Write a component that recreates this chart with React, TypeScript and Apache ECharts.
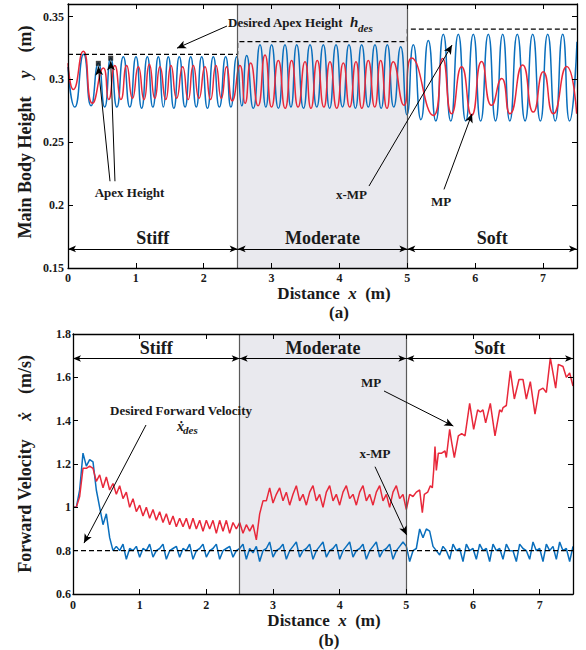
import React, { useEffect, useRef } from "react";
import * as echarts from "echarts";

const SERIF = "Liberation Serif";
const BLUE = "#0a6fbd";
const RED = "#e8283a";
const INK = "#1a1a1a";

// ---------- (a) main body height: extrema ----------
const xmpHeight: [number, number][] = [
  [0, 0.31], [0.1, 0.278], [0.23, 0.32], [0.34, 0.279], [0.447, 0.313], [0.54, 0.278],
  [0.629, 0.317], [0.72, 0.278], [0.815, 0.318], [0.91, 0.278], [1.002, 0.318], [1.085, 0.277],
  [1.169, 0.318], [1.25, 0.278], [1.331, 0.318], [1.405, 0.278], [1.478, 0.318], [1.56, 0.277],
  [1.64, 0.318], [1.725, 0.278], [1.808, 0.318], [1.89, 0.278], [1.97, 0.318], [2.055, 0.277],
  [2.141, 0.318], [2.23, 0.278], [2.323, 0.318], [2.4, 0.278], [2.485, 0.318], [2.56, 0.279],
  [2.633, 0.319], [2.73, 0.277], [2.829, 0.3275], [2.915, 0.278], [3.0, 0.3275], [3.1, 0.277],
  [3.197, 0.3275], [3.285, 0.278], [3.37, 0.3275], [3.47, 0.277], [3.566, 0.3275], [3.665, 0.278],
  [3.762, 0.3275], [3.855, 0.277], [3.949, 0.3275], [4.045, 0.278], [4.14, 0.3275], [4.235, 0.277],
  [4.327, 0.3275], [4.425, 0.278], [4.523, 0.3275], [4.615, 0.277], [4.705, 0.3275], [4.8, 0.278],
  [4.902, 0.326], [4.995, 0.272], [5.088, 0.3275], [5.2, 0.268], [5.309, 0.331], [5.42, 0.267],
  [5.53, 0.336], [5.64, 0.267], [5.751, 0.336], [5.86, 0.267], [5.972, 0.336], [6.08, 0.267],
  [6.193, 0.336], [6.3, 0.267], [6.405, 0.336], [6.51, 0.267], [6.62, 0.336], [6.735, 0.267],
  [6.847, 0.336], [6.96, 0.267], [7.068, 0.336], [7.18, 0.267], [7.289, 0.336], [7.39, 0.267],
  [7.5, 0.33],
];

const mpHeight: [number, number][] = [
  [0, 0.313], [0.08, 0.292], [0.225, 0.3225], [0.36, 0.281], [0.521, 0.309], [0.6, 0.284],
  [0.69, 0.311], [0.78, 0.284], [0.864, 0.311], [0.95, 0.285], [1.036, 0.31], [1.12, 0.284],
  [1.198, 0.312], [1.28, 0.285], [1.355, 0.31], [1.44, 0.284], [1.517, 0.311], [1.6, 0.285],
  [1.689, 0.31], [1.77, 0.284], [1.846, 0.311], [1.93, 0.285], [2.018, 0.31], [2.1, 0.284],
  [2.18, 0.311], [2.26, 0.285], [2.337, 0.31], [2.42, 0.283], [2.534, 0.311], [2.61, 0.281],
  [2.692, 0.313], [2.8, 0.279], [2.903, 0.3195], [3.0, 0.278], [3.099, 0.315], [3.2, 0.277],
  [3.295, 0.315], [3.39, 0.278], [3.492, 0.314], [3.58, 0.277], [3.673, 0.315], [3.77, 0.278],
  [3.86, 0.314], [3.96, 0.277], [4.057, 0.313], [4.15, 0.278], [4.243, 0.314], [4.33, 0.277],
  [4.425, 0.315], [4.52, 0.278], [4.607, 0.315], [4.7, 0.277], [4.793, 0.314], [4.951, 0.2794],
  [5.064, 0.317], [5.383, 0.2714], [5.52, 0.3166], [5.653, 0.2727], [5.8, 0.31], [5.948, 0.2714],
  [6.095, 0.3142], [6.242, 0.2794], [6.39, 0.3008], [6.512, 0.2727], [6.699, 0.3115], [6.856, 0.274],
  [7.003, 0.3062], [7.151, 0.2727], [7.347, 0.3102], [7.495, 0.2727],
];

const apexMarks: [number, number][] = [[0.447, 0.3128], [0.629, 0.3169]];
const hdesX = [0, 2.5, 2.5, 5, 5, 7.5];
const hdesY = [0.32, 0.32, 0.33, 0.33, 0.34, 0.34];

// ---------- (b) forward velocity ----------
const velStep = 0.05; // sampling distance of the velocity traces (m)
const xmpVel = [
  1.0, 1.0, 1.08, 1.25, 1.19, 1.22, 1.21, 1.08, 1.0, 0.92,
  0.97, 0.86, 0.8, 0.82, 0.8, 0.83, 0.76, 0.81, 0.8, 0.82,
  0.77, 0.81, 0.8, 0.83, 0.77, 0.8, 0.81, 0.83, 0.76, 0.8,
  0.81, 0.82, 0.77, 0.81, 0.8, 0.83, 0.76, 0.8, 0.81, 0.83,
  0.77, 0.8, 0.81, 0.83, 0.76, 0.8, 0.81, 0.82, 0.77, 0.8,
  0.81, 0.83, 0.76, 0.81, 0.79, 0.82, 0.75, 0.8, 0.81, 0.84,
  0.77, 0.8, 0.81, 0.83, 0.76, 0.8, 0.82, 0.84, 0.77, 0.8,
  0.81, 0.83, 0.76, 0.8, 0.82, 0.84, 0.77, 0.8, 0.81, 0.83,
  0.76, 0.8, 0.82, 0.84, 0.77, 0.8, 0.81, 0.83, 0.76, 0.8,
  0.82, 0.84, 0.77, 0.8, 0.81, 0.83, 0.76, 0.8, 0.82, 0.84,
  0.82, 0.75, 0.8, 0.81, 0.9, 0.86, 0.9, 0.89, 0.82, 0.8,
  0.78, 0.82, 0.8, 0.76, 0.83, 0.8, 0.81, 0.75, 0.83, 0.8,
  0.81, 0.76, 0.83, 0.8, 0.81, 0.75, 0.83, 0.8, 0.81, 0.76,
  0.83, 0.8, 0.8, 0.75, 0.83, 0.81, 0.8, 0.76, 0.84, 0.8,
  0.81, 0.75, 0.83, 0.8, 0.82, 0.76, 0.84, 0.8, 0.81, 0.75,
  0.82,
];
// MP velocity on the same 0.05 m sampling from 0 to 5 m
const mpVelHard = [
  1.0, 1.0, 1.05, 1.18, 1.18, 1.19, 1.18, 1.12, 1.15, 1.09,
  1.14, 1.08, 1.11, 1.06, 1.1, 1.04, 1.07, 1.0, 1.04, 0.98,
  1.01, 0.96, 1.0, 0.95, 0.99, 0.94, 0.98, 0.93, 0.97, 0.92,
  0.96, 0.91, 0.95, 0.91, 0.95, 0.9, 0.95, 0.9, 0.94, 0.89,
  0.94, 0.9, 0.94, 0.88, 0.94, 0.89, 0.94, 0.88, 0.93, 0.9,
  0.93, 0.88, 0.92, 0.89, 0.92, 0.85, 0.97, 1.03, 1.03, 1.09,
  1.02, 1.06, 1.09, 1.03, 1.07, 1.01, 1.06, 1.1, 1.03, 1.06,
  1.01, 1.07, 1.1, 1.03, 1.06, 1.0, 1.07, 1.1, 1.03, 1.06,
  1.01, 1.07, 1.1, 1.04, 1.06, 1.01, 1.07, 1.1, 1.03, 1.06,
  1.01, 1.07, 1.1, 1.03, 1.06, 1.0, 1.07, 1.1, 1.04, 1.06,
  0.99,
];
// MP velocity on the soft terrain, read point by point
const mpVelSoft: [number, number][] = [
  [5.05, 1.06], [5.1, 1.05], [5.15, 1.07], [5.2, 1.08], [5.24, 0.975], [5.27, 1.06],
  [5.32, 1.07], [5.36, 1.1], [5.39, 1.09], [5.41, 1.17], [5.43, 1.28], [5.45, 1.17],
  [5.48, 1.25], [5.53, 1.25], [5.58, 1.26], [5.6, 1.23], [5.65, 1.36], [5.68, 1.3],
  [5.72, 1.23], [5.78, 1.33], [5.83, 1.34], [5.88, 1.33], [5.95, 1.48], [6.01, 1.36],
  [6.07, 1.45], [6.11, 1.44], [6.15, 1.45], [6.19, 1.39], [6.26, 1.48], [6.33, 1.33],
  [6.4, 1.45], [6.43, 1.44], [6.45, 1.46], [6.5, 1.47], [6.56, 1.63], [6.62, 1.5],
  [6.69, 1.59], [6.75, 1.59], [6.8, 1.5], [6.86, 1.58], [6.93, 1.43], [6.99, 1.54],
  [7.05, 1.55], [7.1, 1.53], [7.16, 1.69], [7.24, 1.55], [7.28, 1.66], [7.35, 1.65],
  [7.4, 1.6], [7.45, 1.62], [7.5, 1.56],
];
const desiredVel = 0.8;

const terrainBounds = [0, 2.5, 5, 7.5];
const terrainNames = ["Stiff", "Moderate", "Soft"];

// ---------- layout ----------
const G1 = { left: 68, top: 4, width: 509, height: 264 };
const G2 = { left: 73, top: 334, width: 500, height: 260 };
const X_MAX = 7.5;

function txt(x: number, y: number, text: string, size: number, o: any = {}) {
  return {
    type: "text",
    x,
    y,
    silent: true,
    z: 100,
    rotation: o.rotation || 0,
    style: {
      text,
      fontFamily: SERIF,
      fontWeight: "bold",
      fontStyle: o.italic ? "italic" : "normal",
      fontSize: size,
      fill: INK,
      align: o.align || "center",
      verticalAlign: "middle",
    },
  };
}

function richTitle(x: number, y: number, a: string, v: string, b: string, size: number, rot = 0) {
  const base = { fontFamily: SERIF, fontWeight: "bold", fontSize: size, fill: INK };
  return {
    type: "text",
    x,
    y,
    silent: true,
    z: 100,
    rotation: rot,
    style: {
      text: `{b|${a}}{i|${v}}{b|${b}}`,
      align: "center",
      verticalAlign: "middle",
      rich: { b: base, i: { ...base, fontStyle: "italic" } },
    },
  };
}

function buildOption() {
  const axisLine = { show: true, onZero: false, lineStyle: { color: "#000", width: 1.3 } };
  const axisTick = { show: true, inside: true, length: 5, lineStyle: { color: "#000", width: 1 } };
  const lbl = (margin: number) => ({
    show: true,
    fontFamily: SERIF,
    fontWeight: "bold",
    fontSize: 12,
    color: INK,
    margin,
    showMaxLabel: false,
  });
  const xAx = (grid: number, pos: string, labels: boolean, margin: number) => ({
    type: "value",
    gridIndex: grid,
    position: pos,
    min: 0,
    max: X_MAX,
    interval: 1,
    z: 10,
    axisLine,
    axisTick,
    splitLine: { show: false },
    axisLabel: labels ? lbl(margin) : { show: false },
  });
  const yAx = (grid: number, pos: string, labels: boolean, min: number, max: number, interval: number, margin: number) => ({
    type: "value",
    gridIndex: grid,
    position: pos,
    min,
    max,
    interval,
    z: 10,
    axisLine,
    axisTick,
    splitLine: { show: false },
    axisLabel: labels ? { ...lbl(margin), showMaxLabel: max === 1.8 } : { show: false },
  });

  const hdes = hdesX.map((x, i) => [x, hdesY[i]]);
  const velX = xmpVel.map((_, i) => +(i * velStep).toFixed(2));
  const xmpVelData = xmpVel.map((v, i) => [velX[i], v]);
  const mpVelData = [...mpVelHard.map((v, i) => [velX[i], v]), ...mpVelSoft];

  const arrow = (x1: number, y1: number, x2: number, y2: number, both = false, size: any = [6, 9]) => [
    { coord: [x1, y1], symbol: both ? "arrow" : "none", symbolSize: size },
    { coord: [x2, y2], symbol: "arrow", symbolSize: size, lineStyle: { color: "#000", width: 1, type: "solid" } },
  ];
  const vline = (x: number, y0: number, y1: number) => [
    { coord: [x, y0], symbol: "none" },
    { coord: [x, y1], symbol: "none", lineStyle: { color: "#5a5a5a", width: 1.2, type: "solid" } },
  ];
  const regionArrows = (y: number) =>
    terrainNames.map((_, k) => arrow(terrainBounds[k], y, terrainBounds[k + 1], y, true, [5, 8]));

  const markLine1 = {
    silent: true,
    symbol: "none",
    label: { show: false },
    lineStyle: { color: "#000", width: 1, type: "solid" },
    data: [
      vline(2.5, 0.15, 0.36),
      vline(5, 0.15, 0.36),
      ...regionArrows(0.1652),
      arrow(2.343, 0.3425, 1.606, 0.3249),
      arrow(0.619, 0.219, 0.446, 0.3104),
      arrow(0.692, 0.219, 0.629, 0.3144),
      arrow(4.435, 0.2152, 5.658, 0.3273),
      arrow(5.54, 0.2125, 5.953, 0.2727),
    ],
  };
  const markLine2 = {
    silent: true,
    symbol: "none",
    label: { show: false },
    lineStyle: { color: "#000", width: 1, type: "solid" },
    data: [
      vline(2.5, 0.6, 1.8),
      vline(5, 0.6, 1.8),
      ...regionArrows(1.687),
      arrow(1.095, 1.38, 0.165, 0.835),
      arrow(4.665, 1.537, 5.705, 1.375),
      arrow(4.53, 1.1875, 5.005, 0.872),
    ],
  };
  const shade = {
    silent: true,
    itemStyle: { color: "#e9e9ee" },
    data: [[{ xAxis: terrainBounds[1] }, { xAxis: terrainBounds[2] }]],
  };

  const lineBase = { type: "line", symbol: "none", showSymbol: false, silent: true };

  const graphic: any[] = [];
  // terrain names
  terrainNames.forEach((n, k) => {
    const mid = (terrainBounds[k] + terrainBounds[k + 1]) / 2;
    graphic.push(txt(G1.left + (mid / X_MAX) * G1.width, 238, n, 18));
    graphic.push(txt(G2.left + (mid / X_MAX) * G2.width, 348, n, 18));
  });
  // annotations (a)
  graphic.push(txt(228, 22, "Desired Apex Height", 13, { align: "left" }));
  graphic.push(txt(350, 22, "h", 15, { align: "left", italic: true }));
  graphic.push(txt(358, 28, "des", 11, { align: "left", italic: true }));
  graphic.push(txt(129.5, 192, "Apex Height", 13));
  graphic.push(txt(351.5, 194, "x-MP", 13));
  graphic.push(txt(441, 201, "MP", 13));
  // annotations (b)
  graphic.push(txt(110, 410, "Desired Forward Velocity", 13, { align: "left" }));
  graphic.push(txt(177, 426, "ẋ", 14, { align: "left", italic: true }));
  graphic.push(txt(183, 430, "des", 11, { align: "left", italic: true }));
  graphic.push(txt(371, 382, "MP", 13));
  graphic.push(txt(375, 453, "x-MP", 13));
  // axis titles
  graphic.push(richTitle(334, 293, "Distance  ", "x", "  (m)", 17));
  graphic.push(txt(339, 312, "(a)", 17));
  graphic.push(richTitle(324, 620, "Distance  ", "x", "  (m)", 17));
  graphic.push(txt(329, 640, "(b)", 17));
  graphic.push(richTitle(25, 132, "Main Body Height    ", "y", "    (m)", 18, Math.PI / 2));
  graphic.push(richTitle(25, 464, "Forward Velocity    ", "ẋ", "    (m/s)", 18, Math.PI / 2));

  return {
    animation: false,
    backgroundColor: "#ffffff",
    textStyle: { fontFamily: SERIF },
    grid: [
      { ...G1, containLabel: false },
      { ...G2, containLabel: false },
    ],
    xAxis: [xAx(0, "bottom", true, 4), xAx(0, "top", false, 0), xAx(1, "bottom", true, 5), xAx(1, "top", false, 0)],
    yAxis: [
      yAx(0, "left", true, 0.15, 0.36, 0.05, 4),
      yAx(0, "right", false, 0.15, 0.36, 0.05, 0),
      yAx(1, "left", true, 0.6, 1.8, 0.2, 2),
      yAx(1, "right", false, 0.6, 1.8, 0.2, 0),
    ],
    series: [
      {
        ...lineBase,
        name: "hdes",
        xAxisIndex: 0,
        yAxisIndex: 0,
        data: hdes,
        z: 4,
        lineStyle: { color: "#000", width: 1.2, type: [5, 3] },
        markArea: shade,
        markLine: markLine1,
      },
      {
        ...lineBase,
        name: "x-MP",
        xAxisIndex: 0,
        yAxisIndex: 0,
        data: xmpHeight,
        smooth: 0.6,
        lineStyle: { color: BLUE, width: 1.5 },
      },
      {
        ...lineBase,
        name: "MP",
        xAxisIndex: 0,
        yAxisIndex: 0,
        data: mpHeight,
        smooth: 0.6,
        lineStyle: { color: RED, width: 1.5 },
      },
      {
        type: "scatter",
        name: "apex",
        xAxisIndex: 0,
        yAxisIndex: 0,
        data: apexMarks,
        symbol: "rect",
        symbolSize: 5,
        silent: true,
        z: 6,
        itemStyle: { color: "#111" },
      },
      {
        ...lineBase,
        name: "desVel",
        xAxisIndex: 2,
        yAxisIndex: 2,
        data: [[0, desiredVel], [X_MAX, desiredVel]],
        z: 4,
        lineStyle: { color: "#000", width: 1.2, type: [5, 3] },
        markArea: shade,
        markLine: markLine2,
      },
      {
        ...lineBase,
        name: "x-MP vel",
        xAxisIndex: 2,
        yAxisIndex: 2,
        data: xmpVelData,
        lineStyle: { color: BLUE, width: 1.5 },
      },
      {
        ...lineBase,
        name: "MP vel",
        xAxisIndex: 2,
        yAxisIndex: 2,
        data: mpVelData,
        lineStyle: { color: RED, width: 1.5 },
      },
    ],
    graphic,
  };
}

export default function App() {
  const ref = useRef<HTMLDivElement>(null);
  useEffect(() => {
    if (!ref.current) return;
    const chart = echarts.init(ref.current, undefined, { renderer: "svg" });
    chart.setOption(buildOption() as any);
    return () => chart.dispose();
  }, []);
  return (
    <div
      ref={ref}
      style={{ position: "absolute", left: 0, top: 0, width: 586, height: 650, background: "#fff" }}
    />
  );
}
